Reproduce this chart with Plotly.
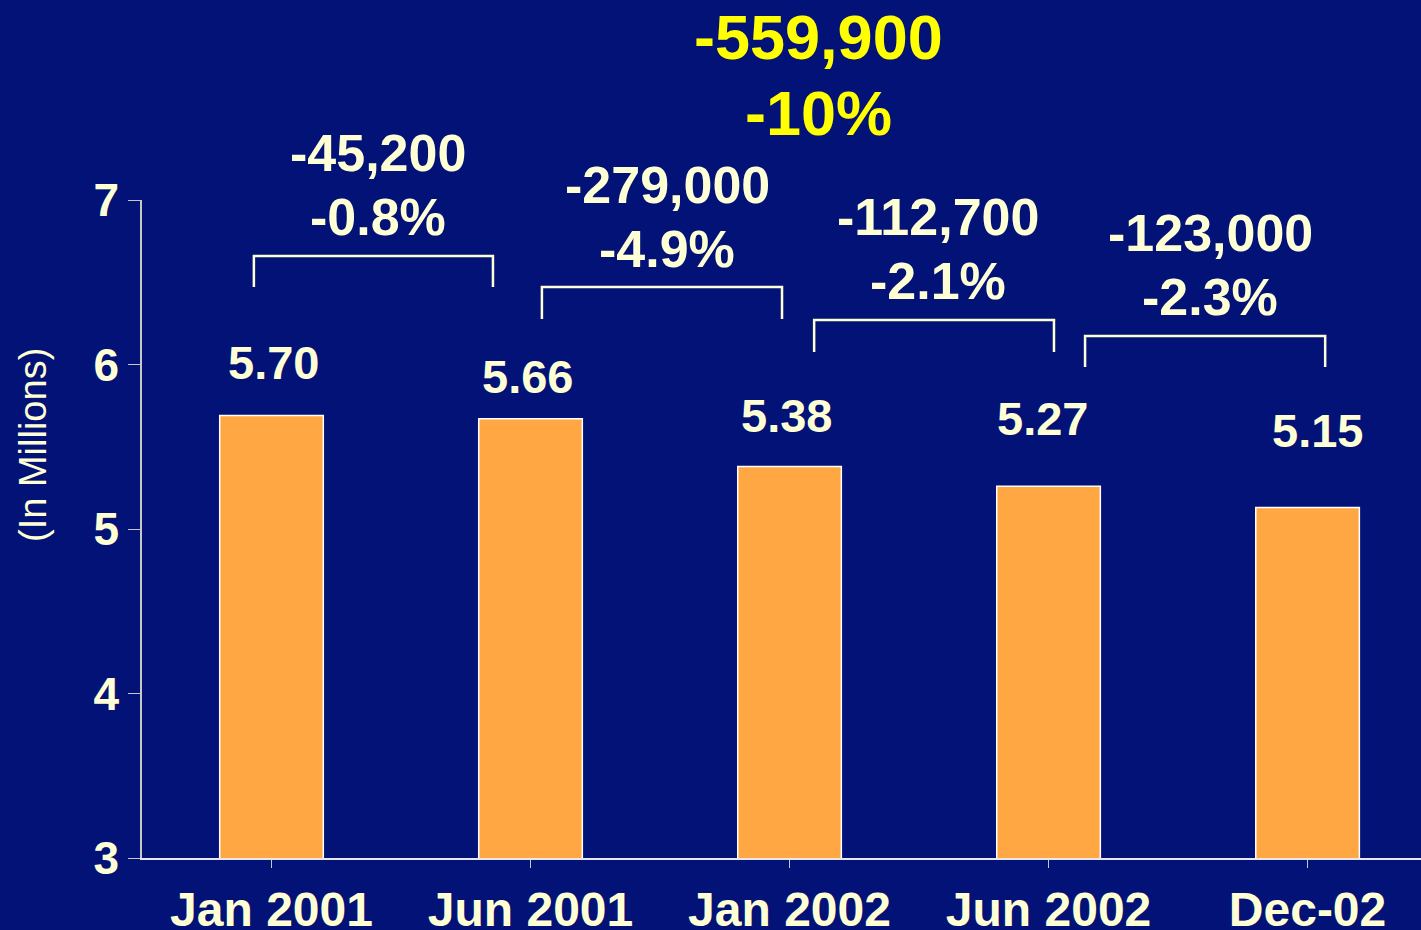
import plotly.graph_objects as go

# data
periods = ["Jan 2001", "Jun 2001", "Jan 2002", "Jun 2002", "Dec-02"]
employment = [5.69, 5.67, 5.38, 5.26, 5.13]  # millions
value_labels = ["5.70", "5.66", "5.38", "5.27", "5.15"]

change_abs = ["-45,200", "-279,000", "-112,700", "-123,000"]
change_pct = ["-0.8%", "-4.9%", "-2.1%", "-2.3%"]
total_abs = "-559,900"
total_pct = "-10%"

BG = "#031276"
CREAM = "#FFFFD5"
ORANGE = "#FFA843"
FONT = "Liberation Sans, Arial, sans-serif"
Y_MIN, Y_MAX = 3, 7


def py(v):
    # data value -> paper fraction (annotations above the axis range get hidden otherwise)
    return (v - Y_MIN) / (Y_MAX - Y_MIN)


def label(x, y, text, size, color=CREAM):
    fig.add_annotation(x=x, y=py(y), yref="paper", text=f"<b>{text}</b>",
                       showarrow=False, xanchor="center", yanchor="middle",
                       font=dict(size=size, color=color, family=FONT))


fig = go.Figure()
fig.add_trace(go.Bar(
    x=list(range(len(periods))), y=employment, width=0.4,
    marker=dict(color=ORANGE, line=dict(color="white", width=1.5)),
    hoverinfo="skip",
))

# value label placement above each bar
label_dx = [0.006, -0.01, -0.01, -0.025, 0.039]
label_y = [6.015, 5.93, 5.693, 5.669, 5.596]
for i, t in enumerate(value_labels):
    label(i + label_dx[i], label_y[i], t, 47)

# brackets between consecutive periods
br_x0 = [-0.068, 1.044, 2.095, 3.141]
br_x1 = [0.855, 1.971, 3.021, 4.068]
br_top = [6.66, 6.471, 6.271, 6.173]
br_bot = [6.471, 6.277, 6.076, 5.985]
txt_x = [0.411, 1.527, 2.573, 3.624]
txt_y1 = [7.286, 7.091, 6.897, 6.799]
txt_y2 = [6.897, 6.702, 6.508, 6.410]
for i in range(len(change_abs)):
    fig.add_shape(type="path",
                  path=f"M {br_x0[i]} {br_bot[i]} L {br_x0[i]} {br_top[i]} "
                       f"L {br_x1[i]} {br_top[i]} L {br_x1[i]} {br_bot[i]}",
                  xref="x", yref="y", line=dict(color=CREAM, width=2.5))
    label(txt_x[i], txt_y1[i], change_abs[i], 52)
    label(txt_x[i], txt_y2[i], change_pct[i], 52)

# overall change
label(2.11, 7.991, total_abs, 63, "#FFFF00")
label(2.11, 7.529, total_pct, 63, "#FFFF00")

# y axis title, sits above the plot centre in the original
fig.add_annotation(x=-0.0852, xref="paper", y=py(5.511), yref="paper",
                   text="(In Millions)", textangle=-90, showarrow=False,
                   xanchor="center", yanchor="middle",
                   font=dict(size=38, color=CREAM, family=FONT))

fig.update_layout(
    width=1421, height=930,
    paper_bgcolor=BG, plot_bgcolor=BG,
    margin=dict(l=142, r=0, t=200, b=72),
    showlegend=False,
    font=dict(family=FONT, color=CREAM),
)
fig.update_xaxes(
    range=[-0.5, 4.438], tickmode="array", automargin=False,
    tickvals=list(range(len(periods))),
    ticktext=[f"<b>{p}</b>" for p in periods],
    tickson="boundaries", ticks="outside", ticklen=8, tickcolor="#C8C8C8",
    showline=True, linecolor="#E8E8E8", linewidth=2,
    showgrid=False, zeroline=False,
    tickfont=dict(size=48, color=CREAM, family=FONT),
)
fig.update_yaxes(
    range=[Y_MIN, Y_MAX], dtick=1, tickmode="linear", automargin=False,
    ticks="outside", ticklen=12, tickcolor="#C8C8C8",
    showline=True, linecolor="#C8C8C8", linewidth=1.5,
    showgrid=False, zeroline=False,
    tickprefix="<b>", ticksuffix="</b>",
    tickfont=dict(size=46, color=CREAM, family=FONT),
)

fig.write_html("out.html", config={"displayModeBar": False},
               post_script="document.body.style.margin='0';")
